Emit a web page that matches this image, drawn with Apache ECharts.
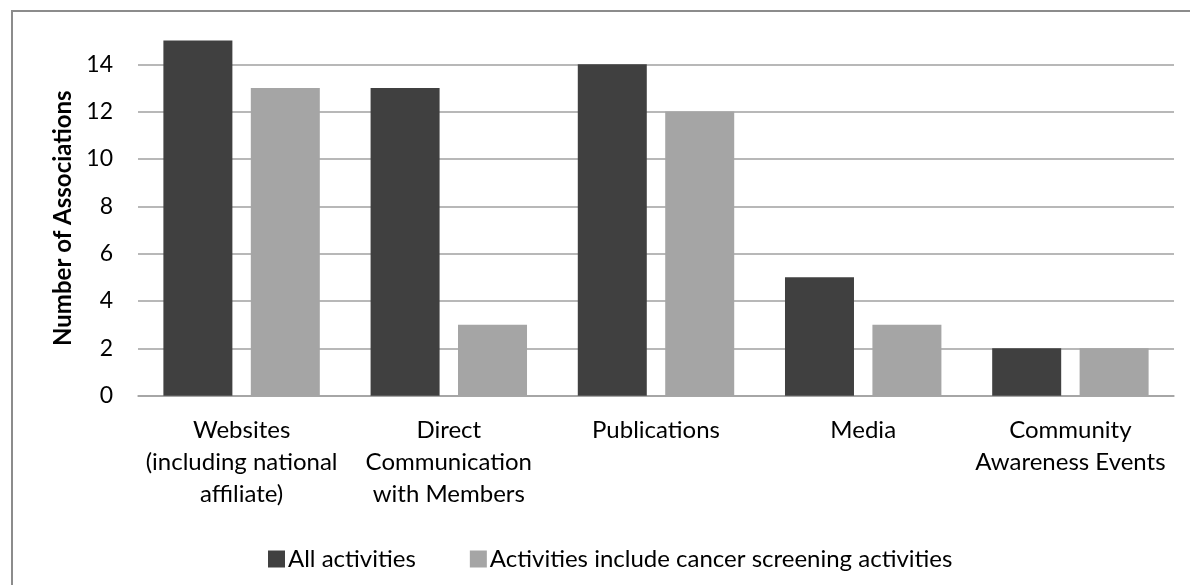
<!DOCTYPE html>
<html>
<head>
<meta charset="utf-8">
<script src="https://cdn.jsdelivr.net/npm/echarts@6/dist/echarts.min.js"></script>
<style>
html,body{margin:0;padding:0;background:#fff;}
#chart{width:1190px;height:585px;}
</style>
</head>
<body>
<div id="chart"></div>
<script>
const categories = [
  "Websites\n(including national\naffiliate)",
  "Direct\nCommunication\nwith Members",
  "Publications",
  "Media",
  "Community\nAwareness Events"
];
const seriesNames = ["All activities", "Activities include cancer screening activities"];
const allActivities = [15, 13, 14, 5, 2];
const screeningActivities = [13, 3, 12, 3, 2];

const FONT = "Lato";
const chart = echarts.init(document.getElementById('chart'), null, {renderer: 'canvas'});
chart.setOption({
  animation: false,
  backgroundColor: '#ffffff',
  textStyle: {fontFamily: FONT, color: '#000'},
  graphic: [{
    type: 'rect',
    shape: {x: 12, y: 11, width: 1250, height: 650},
    style: {fill: 'none', stroke: '#8c8c8c', lineWidth: 2},
    silent: true
  }],
  grid: {left: 138, right: 16, top: 40.6, bottom: 189.3},
  legend: {
    left: 263, top: 542,
    itemWidth: 17, itemHeight: 17, itemGap: 54,
    icon: 'rect',
    textStyle: {fontFamily: FONT, fontSize: 24, color: '#000', padding: [0,0,0,-2]},
    data: seriesNames
  },
  xAxis: {
    type: 'category',
    data: categories,
    axisLine: {lineStyle: {color: '#a0a0a0', width: 1.5}},
    axisTick: {show: false},
    axisLabel: {fontFamily: FONT, fontSize: 24, color: '#000', lineHeight: 32, margin: 19, interval: 0}
  },
  yAxis: {
    type: 'value',
    min: 0, max: 15, interval: 2,
    name: 'Number of Associations',
    nameLocation: 'middle',
    nameRotate: 90,
    nameGap: 63,
    nameTextStyle: {fontFamily: FONT, fontSize: 24, fontWeight: 'bold', color: '#000'},
    axisLine: {show: false},
    axisTick: {show: false},
    axisLabel: {fontFamily: FONT, fontSize: 23, color: '#000', margin: 25, showMaxLabel: false},
    splitLine: {showMaxLine: false, lineStyle: {color: '#a0a0a0', width: 1.5}}
  },
  series: [
    {name: seriesNames[0], type: 'bar', data: allActivities, barWidth: 69, barGap: '26.7%',
     itemStyle: {color: '#404040'}},
    {name: seriesNames[1], type: 'bar', data: screeningActivities, barWidth: 69,
     itemStyle: {color: '#a5a5a5'}}
  ]
});
</script>
</body>
</html>
